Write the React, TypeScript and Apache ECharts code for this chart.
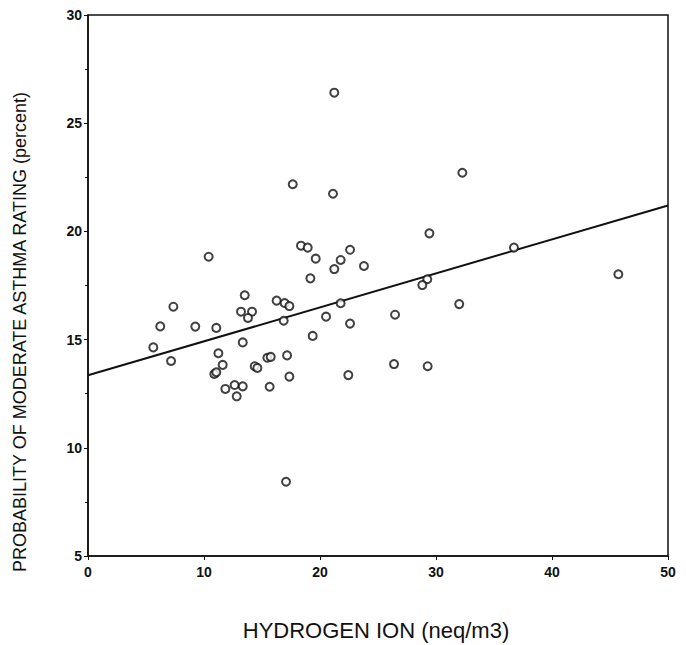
import React, { useEffect, useRef } from "react";
import * as echarts from "echarts";

const hydrogenIon = [
  21.23, 17.65, 21.12, 18.36, 18.94, 22.59, 19.63, 21.78, 10.4, 21.23,
  23.79, 19.17, 13.51, 7.36, 16.26, 16.95, 17.36, 13.19, 14.14, 13.79,
  16.87, 21.78, 20.52, 22.59, 6.23, 9.25, 11.06, 19.37, 5.63, 13.34,
  7.16, 11.24, 15.46, 15.75, 17.16, 11.61, 14.37, 14.6, 10.89, 11.06,
  17.36, 22.44, 12.64, 13.34, 11.84, 15.66, 12.82, 17.07, 32.27, 29.43,
  36.72, 29.25, 28.82, 45.72, 32.0, 26.47, 26.38, 29.28,
];
const asthmaProbability = [
  26.41, 22.18, 21.74, 19.34, 19.25, 19.15, 18.74, 18.68, 18.83, 18.26,
  18.4, 17.83, 17.05, 16.52, 16.8, 16.69, 16.55, 16.29, 16.29, 16.0,
  15.87, 16.68, 16.06, 15.74, 15.61, 15.6, 15.54, 15.17, 14.64, 14.87,
  14.01, 14.37, 14.16, 14.2, 14.27, 13.83, 13.77, 13.69, 13.41, 13.49,
  13.29, 13.36, 12.9, 12.84, 12.72, 12.82, 12.38, 8.43, 22.71, 19.91,
  19.25, 17.79, 17.52, 18.02, 16.64, 16.15, 13.87, 13.77,
];
const fitX = [0, 50];
const fitY = [13.35, 21.2];
const xTicks = [0, 10, 20, 30, 40, 50];
const yTicks = [5, 10, 15, 20, 25, 30];

const xTitle = "HYDROGEN ION (neq/m3)";
const yTitle = "PROBABILITY OF MODERATE ASTHMA RATING (percent)";

export default function App() {
  const ref = useRef<HTMLDivElement>(null);
  useEffect(() => {
    document.body.style.margin = "0";
    if (!ref.current) return;
    const chart = echarts.init(ref.current, undefined, { renderer: "svg" });
    const labelFont = {
      color: "#111",
      fontWeight: "bold" as const,
      fontSize: 14,
      fontFamily: "'Liberation Sans Narrow', 'Liberation Sans', Arial, sans-serif",
    };
    chart.setOption({
      animation: false,
      backgroundColor: "#fff",
      grid: {
        left: 88,
        right: 18,
        top: 15,
        bottom: 89,
        show: true,
        borderColor: "#111",
        borderWidth: 1.5,
        backgroundColor: "transparent",
      },
      xAxis: {
        type: "value",
        min: xTicks[0],
        max: xTicks[xTicks.length - 1],
        interval: 10,
        axisLine: { show: true, onZero: false, lineStyle: { color: "#111", width: 1.5 } },
        axisTick: { show: true, inside: false, length: 4, lineStyle: { color: "#111" } },
        splitLine: { show: false },
        axisLabel: { ...labelFont, margin: 9 },
      },
      yAxis: {
        type: "value",
        min: yTicks[0],
        max: yTicks[yTicks.length - 1],
        interval: 5,
        axisLine: { show: true, onZero: false, lineStyle: { color: "#111", width: 1.5 } },
        axisTick: { show: true, inside: false, length: 4, lineStyle: { color: "#111" } },
        minorTick: { show: true, splitNumber: 2, length: 3, lineStyle: { color: "#111" } },
        splitLine: { show: false },
        axisLabel: { ...labelFont, margin: 6 },
      },
      series: [
        {
          type: "line",
          data: fitX.map((x, i) => [x, fitY[i]]),
          symbol: "none",
          lineStyle: { color: "#111", width: 2 },
          z: 2,
        },
        {
          type: "scatter",
          data: hydrogenIon.map((x, i) => [x, asthmaProbability[i]]),
          symbol: "circle",
          symbolSize: 8,
          itemStyle: { color: "#fff", borderColor: "#111", borderWidth: 2 },
          z: 3,
        },
      ],
      graphic: [
        {
          type: "text",
          x: 376,
          y: 630,
          style: {
            text: xTitle,
            fill: "#111",
            fontSize: 22,
            fontFamily: "'Liberation Sans', Arial, sans-serif",
            align: "center",
            verticalAlign: "middle",
          },
        },
        {
          type: "text",
          x: 20,
          y: 332,
          rotation: Math.PI / 2,
          style: {
            text: yTitle,
            fill: "#111",
            fontSize: 18,
            fontFamily: "'Liberation Sans', Arial, sans-serif",
            align: "center",
            verticalAlign: "middle",
          },
        },
      ],
    });
    return () => chart.dispose();
  }, []);
  return <div ref={ref} style={{ width: 686, height: 645 }} />;
}
